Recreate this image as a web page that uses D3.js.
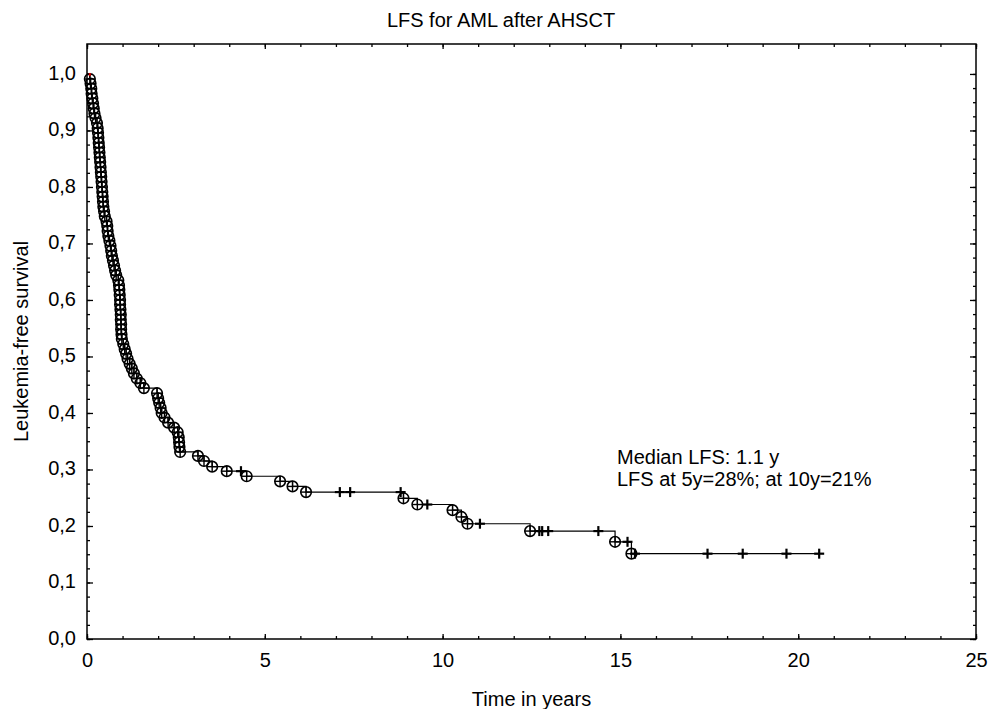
<!DOCTYPE html>
<html>
<head>
<meta charset="utf-8">
<script src="https://cdn.jsdelivr.net/npm/d3@7"></script>
<style>
  html, body { margin: 0; padding: 0; background: #fff; }
  svg { display: block; font-family: "Liberation Sans", Arial, sans-serif; }
</style>
</head>
<body>
<svg id="chart" width="1002" height="709"></svg>
<script>
// ---------------- data ----------------
const chartTitle = "LFS for AML after AHSCT";
const xTitle = "Time in years";
const yTitle = "Leukemia-free survival";
const annotationLines = ["Median LFS: 1.1 y", "LFS at 5y=28%; at 10y=21%"];

const xTickValues = [0, 5, 10, 15, 20, 25];
const yTickValues = [0, 0.1, 0.2, 0.3, 0.4, 0.5, 0.6, 0.7, 0.8, 0.9, 1.0];
const yTickLabels = ["0,0","0,1","0,2","0,3","0,4","0,5","0,6","0,7","0,8","0,9","1,0"];

// events (failures): time in years, survival after the event
const eventTimes = [
  0.08, 0.10, 0.12, 0.13, 0.15, 0.17, 0.19, 0.21, 0.24, 0.28,
  0.30, 0.31, 0.32, 0.33, 0.34, 0.35, 0.36, 0.37, 0.38, 0.39,
  0.40, 0.41, 0.42, 0.43, 0.44, 0.45, 0.46, 0.48, 0.50, 0.55,
  0.57, 0.58, 0.60, 0.63, 0.66, 0.68, 0.70, 0.73, 0.76, 0.79,
  0.82, 0.88, 0.90, 0.91, 0.92, 0.93, 0.93, 0.94, 0.95, 0.95,
  0.96, 0.96, 0.97, 0.98, 1.02, 1.06, 1.10, 1.14, 1.20, 1.26,
  1.32, 1.40, 1.50, 1.60, 1.97, 2.00, 2.03, 2.07, 2.10, 2.18,
  2.28, 2.45, 2.55, 2.58, 2.59, 2.60, 2.62,
  3.12, 3.29, 3.52, 3.93, 4.49, 5.43, 5.78, 6.16, 8.90, 9.29,
  10.28, 10.53, 10.70, 12.46, 14.85, 15.31
];
const eventSurv = [
  0.991, 0.983, 0.974, 0.965, 0.957, 0.948, 0.939, 0.930, 0.922, 0.913,
  0.904, 0.896, 0.887, 0.878, 0.870, 0.861, 0.852, 0.844, 0.835, 0.826,
  0.818, 0.809, 0.800, 0.791, 0.783, 0.774, 0.765, 0.757, 0.748, 0.739,
  0.731, 0.722, 0.713, 0.705, 0.696, 0.687, 0.678, 0.670, 0.661, 0.652,
  0.644, 0.635, 0.626, 0.618, 0.609, 0.600, 0.592, 0.583, 0.574, 0.565,
  0.557, 0.548, 0.539, 0.531, 0.522, 0.513, 0.505, 0.496, 0.487, 0.479,
  0.470, 0.461, 0.453, 0.444, 0.435, 0.426, 0.418, 0.409, 0.400, 0.392,
  0.383, 0.374, 0.366, 0.357, 0.348, 0.340, 0.331,
  0.324, 0.315, 0.305, 0.297, 0.288, 0.279, 0.270, 0.260, 0.249, 0.238,
  0.228, 0.216, 0.204, 0.191, 0.172, 0.151
];

// censored observations
const censorTimes = [4.33, 7.11, 7.40, 8.82, 9.57, 11.05, 12.72, 12.80, 12.97, 14.38, 15.20, 15.41, 17.45, 18.44, 19.67, 20.59];
const censorSurv  = [0.297, 0.260, 0.260, 0.260, 0.238, 0.204, 0.191, 0.191, 0.191, 0.191, 0.172, 0.151, 0.151, 0.151, 0.151, 0.151];

// ---------------- drawing ----------------
const svg = d3.select("#chart");
const plot = { left: 87, right: 976, top: 44, bottom: 639 };

const x = d3.scaleLinear().domain([0, 25]).range([plot.left, plot.right]);
const y = d3.scaleLinear().domain([0, 1.053]).range([plot.bottom, plot.top]);

const fontSize = 20;

// Title
svg.append("text")
  .attr("x", 501).attr("y", 26.5)
  .attr("text-anchor", "middle")
  .attr("font-size", fontSize)
  .attr("fill", "#000")
  .text(chartTitle);

// Axis titles
svg.append("text")
  .attr("x", (plot.left + plot.right) / 2).attr("y", 705.5)
  .attr("text-anchor", "middle")
  .attr("font-size", fontSize)
  .text(xTitle);

svg.append("text")
  .attr("transform", `translate(28,${(plot.top + plot.bottom) / 2}) rotate(-90)`)
  .attr("text-anchor", "middle")
  .attr("font-size", fontSize)
  .text(yTitle);

// Axes (ticks pointing inward)
const fmtY = d => yTickLabels[yTickValues.findIndex(v => Math.abs(v - d) < 1e-9)];

const yMinor = d3.range(0, 41).map(i => i * 0.025);
const xMinor = d3.range(0, 26);

function styleAxis(g) {
  g.select(".domain").remove();
  g.selectAll("line").attr("stroke", "#000").attr("stroke-width", 1.3);
  g.selectAll("text").attr("font-size", fontSize).attr("fill", "#000")
    .attr("font-family", "Liberation Sans, Arial, sans-serif");
}

// left minor
svg.append("g").attr("transform", `translate(${plot.left},0)`)
  .call(d3.axisRight(y).tickValues(yMinor).tickSize(3).tickFormat(""))
  .call(styleAxis);
// left major with labels
const gy = svg.append("g").attr("transform", `translate(${plot.left},0)`)
  .call(d3.axisRight(y).tickValues(yTickValues).tickSize(6).tickFormat(fmtY))
  .call(styleAxis);
gy.selectAll("text").attr("x", -11).attr("text-anchor", "end").attr("dy", "0.27em");

// right ticks
svg.append("g").attr("transform", `translate(${plot.right},0)`)
  .call(d3.axisLeft(y).tickValues(yMinor).tickSize(3).tickFormat(""))
  .call(styleAxis);
svg.append("g").attr("transform", `translate(${plot.right},0)`)
  .call(d3.axisLeft(y).tickValues(yTickValues).tickSize(6).tickFormat(""))
  .call(styleAxis);

// bottom minor
svg.append("g").attr("transform", `translate(0,${plot.bottom})`)
  .call(d3.axisTop(x).tickValues(xMinor).tickSize(3).tickFormat(""))
  .call(styleAxis);
const gx = svg.append("g").attr("transform", `translate(0,${plot.bottom})`)
  .call(d3.axisTop(x).tickValues(xTickValues).tickSize(5).tickFormat(d3.format("d")))
  .call(styleAxis);
gx.selectAll("text").attr("y", 28).attr("dy", 0).attr("text-anchor", "middle");

// top ticks
svg.append("g").attr("transform", `translate(0,${plot.top})`)
  .call(d3.axisBottom(x).tickValues(xMinor).tickSize(3).tickFormat(""))
  .call(styleAxis);
svg.append("g").attr("transform", `translate(0,${plot.top})`)
  .call(d3.axisBottom(x).tickValues(xTickValues).tickSize(5).tickFormat(""))
  .call(styleAxis);

// frame
svg.append("rect")
  .attr("x", plot.left).attr("y", plot.top)
  .attr("width", plot.right - plot.left).attr("height", plot.bottom - plot.top)
  .attr("fill", "none").attr("stroke", "#000").attr("stroke-width", 1.5);

// Step curve
const stepPoints = [[0, 1]]
  .concat(eventTimes.map((t, i) => [t, eventSurv[i]]))
  .concat([[d3.max(censorTimes), eventSurv[eventSurv.length - 1]]]);

svg.append("path")
  .datum(stepPoints)
  .attr("fill", "none")
  .attr("stroke", "#000")
  .attr("stroke-width", 1.2)
  .attr("d", d3.line().x(d => x(d[0])).y(d => y(d[1])).curve(d3.curveStepAfter));

// Event markers (circle with cross)
const r = 5.3;
const ev = svg.append("g").selectAll("g.ev")
  .data(eventTimes.map((t, i) => ({ t, s: eventSurv[i] })))
  .join("g")
  .attr("transform", d => `translate(${x(d.t)},${y(d.s)})`);
ev.append("circle").attr("r", r).attr("fill", "none").attr("stroke", "#000").attr("stroke-width", 1.6);
ev.append("line").attr("x1", -r).attr("x2", r).attr("stroke", "#000").attr("stroke-width", 1.4);
ev.append("line").attr("y1", -r).attr("y2", r).attr("stroke", "#000").attr("stroke-width", 1.4);

// Censor markers (+)
const c = 5;
const ce = svg.append("g").selectAll("g.ce")
  .data(censorTimes.map((t, i) => ({ t, s: censorSurv[i] })))
  .join("g")
  .attr("transform", d => `translate(${x(d.t)},${y(d.s)})`);
ce.append("line").attr("x1", -c).attr("x2", c).attr("stroke", "#000").attr("stroke-width", 2.2);
ce.append("line").attr("y1", -c).attr("y2", c).attr("stroke", "#000").attr("stroke-width", 2.2);

// small red start mark
svg.append("rect")
  .attr("x", x(eventTimes[0]) - 1).attr("y", y(1) - 1)
  .attr("width", 2).attr("height", 3)
  .attr("fill", "#d00000");

// Annotation
const ann = svg.append("text").attr("x", 617).attr("y", 464).attr("font-size", fontSize);
annotationLines.forEach((line, i) => {
  ann.append("tspan").attr("x", 617).attr("dy", i === 0 ? 0 : 22.3).text(line);
});
</script>
</body>
</html>
